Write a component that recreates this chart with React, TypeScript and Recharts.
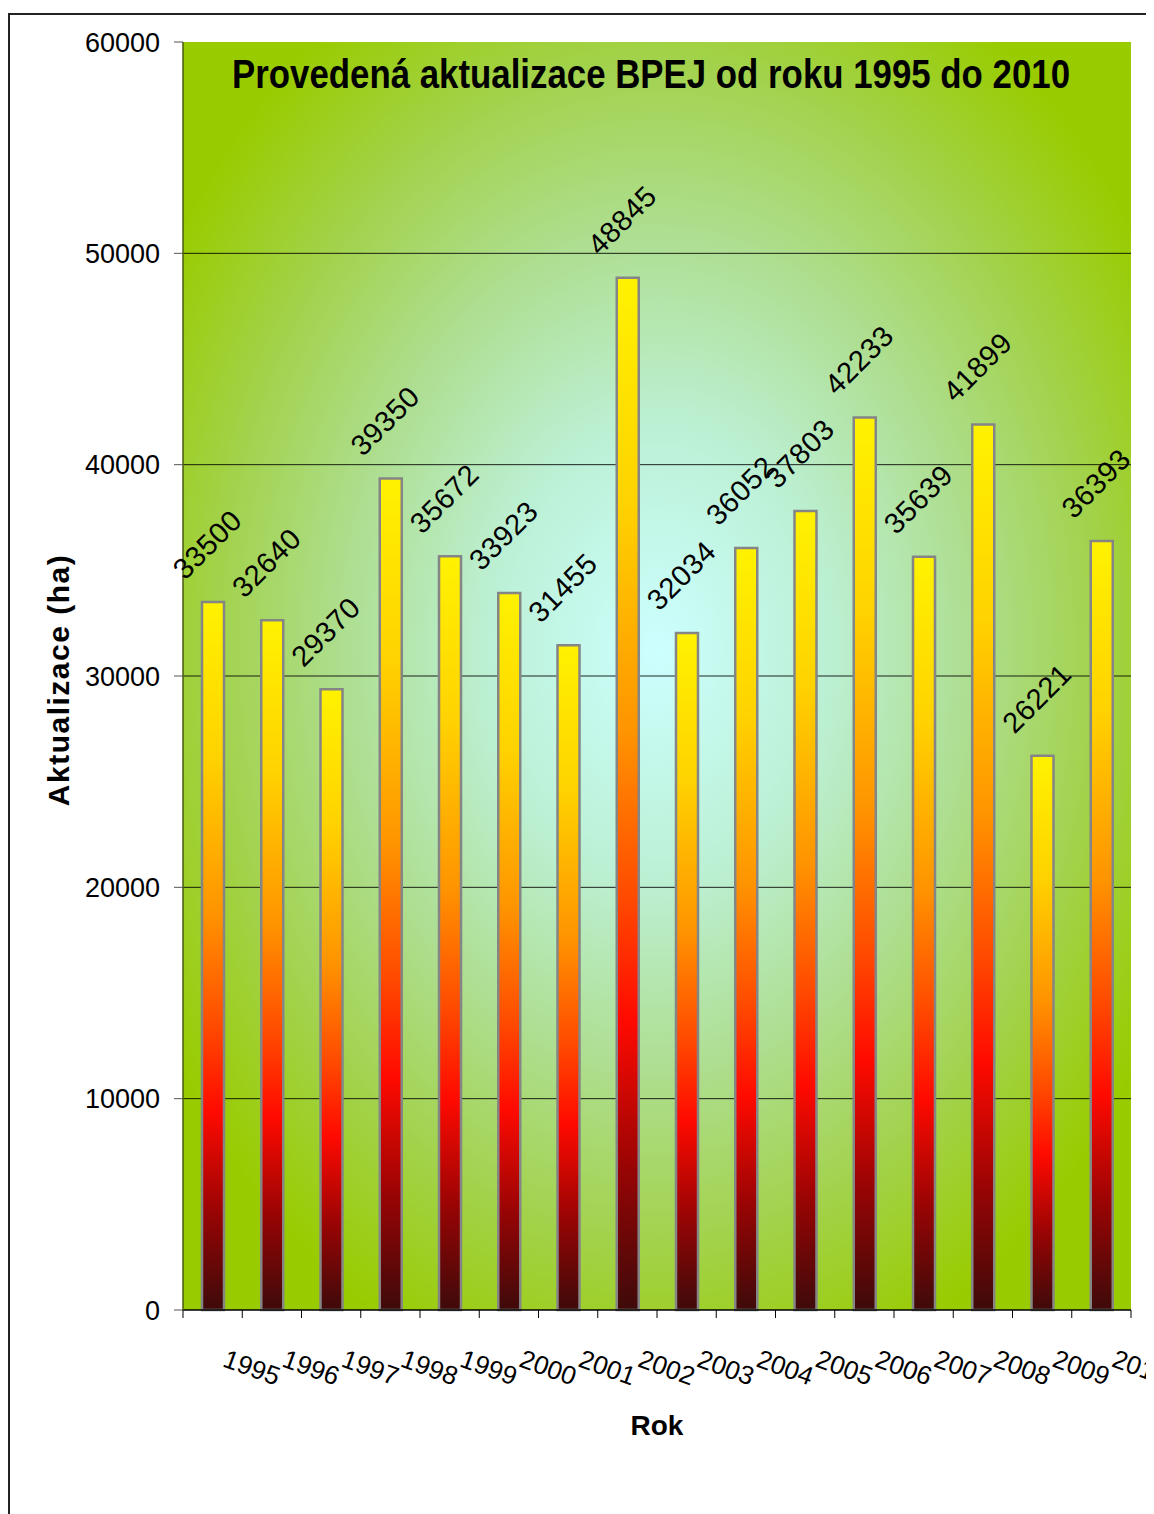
import React from "react";
import {
  BarChart,
  Bar,
  XAxis,
  YAxis,
  CartesianGrid,
  LabelList,
  Customized,
} from "recharts";

const roky = [
  "1995", "1996", "1997", "1998", "1999", "2000", "2001", "2002",
  "2003", "2004", "2005", "2006", "2007", "2008", "2009", "2010",
];

const aktualizace = [
  33500, 32640, 29370, 39350, 35672, 33923, 31455, 48845,
  32034, 36052, 37803, 42233, 35639, 41899, 26221, 36393,
];

const yTicks = [0, 10000, 20000, 30000, 40000, 50000, 60000];
const gridValues = [10000, 20000, 30000, 40000, 50000];

const data = roky.map((rok, i) => ({ rok, ha: aktualizace[i] }));

const W = 1146;
const H = 1506;
const M = { top: 34, right: 23, left: 0, bottom: 0 };
const Y_W = 175;
const X_H = 204;
const BAND = (W - Y_W - M.right) / roky.length;

const XTick = (props: any) => {
  const { x, y, payload, index } = props;
  const half = BAND / 2;
  const tx = x + 9;
  const ty = y + 56;
  return (
    <g>
      {index === 0 && (
        <line x1={x - half} x2={x - half} y1={y} y2={y + 8} stroke="#000" />
      )}
      <line x1={x + half} x2={x + half} y1={y} y2={y + 8} stroke="#000" />
      <text
        x={tx}
        y={ty}
        transform={`rotate(20, ${tx}, ${ty})`}
        textAnchor="start"
        fontSize={26}
        fontFamily="'Liberation Sans Narrow', 'Liberation Sans', Arial, sans-serif"
        fill="#000"
      >
        {payload.value}
      </text>
    </g>
  );
};

const ValueLabel = (props: any) => {
  const { x, y, width, value } = props;
  const lx = x + width / 2 - 28;
  const ly = y - 21;
  return (
    <text
      x={lx}
      y={ly}
      transform={`rotate(-45, ${lx}, ${ly})`}
      textAnchor="start"
      fontSize={29}
      letterSpacing={0.5}
      fontFamily="'Liberation Sans', Arial, sans-serif"
      fill="#000"
    >
      {value}
    </text>
  );
};

const Texts = () => (
  <g fontFamily="'Liberation Sans', Arial, sans-serif" fill="#000">
    <text
      x={224}
      y={80}
      fontSize={40}
      fontWeight="bold"
      textLength={838}
      lengthAdjust="spacingAndGlyphs"
      fontFamily="'Liberation Sans Narrow', 'Liberation Sans', Arial, sans-serif"
    >
      Provedená aktualizace BPEJ od roku 1995 do 2010
    </text>
    <text
      x={50}
      y={672}
      transform="rotate(-90, 50, 672)"
      textAnchor="middle"
      dominantBaseline="central"
      fontSize={30}
      fontWeight="bold"
      letterSpacing={1.5}
    >
      Aktualizace (ha)
    </text>
    <text x={649} y={1427} textAnchor="middle" fontSize={28} fontWeight="bold">
      Rok
    </text>
  </g>
);

export default function App() {
  return (
    <div style={{ position: "relative", width: W, height: H, overflow: "hidden" }}>
      <div
        style={{
          position: "absolute",
          left: 0,
          top: 5,
          width: 3000,
          height: 3000,
          borderLeft: "2px solid #222",
          borderTop: "2px solid #222",
        }}
      />
      <div style={{ position: "absolute", left: 0, top: 0 }}>
        <BarChart width={W} height={H} data={data} margin={M} barSize={22}>
          <defs>
            <radialGradient id="bgGrad" cx="0.5" cy="0.48" r="0.6">
              <stop offset="0" stopColor="#CCFFFF" />
              <stop offset="0.3" stopColor="#BCF0D4" />
              <stop offset="0.55" stopColor="#AEDE90" />
              <stop offset="0.78" stopColor="#A2D24A" />
              <stop offset="1" stopColor="#99CC00" />
            </radialGradient>
            <linearGradient id="barGrad" x1="0" y1="0" x2="0" y2="1">
              <stop offset="0" stopColor="#FFF200" />
              <stop offset="0.22" stopColor="#FFD200" />
              <stop offset="0.44" stopColor="#FF9400" />
              <stop offset="0.6" stopColor="#FF4A00" />
              <stop offset="0.72" stopColor="#FF0A00" />
              <stop offset="0.86" stopColor="#9A0404" />
              <stop offset="1" stopColor="#3E0A0A" />
            </linearGradient>
          </defs>
          <CartesianGrid
            vertical={false}
            horizontalValues={gridValues}
            stroke="#000"
            strokeOpacity={0.85}
            fill="url(#bgGrad)"
            fillOpacity={1}
          />
          <XAxis
            dataKey="rok"
            height={X_H}
            interval={0}
            tickSize={0}
            tickMargin={0}
            axisLine={{ stroke: "#000", strokeWidth: 1.5 }}
            tickLine={false}
            tick={<XTick />}
          />
          <YAxis
            domain={[0, 60000]}
            ticks={yTicks}
            width={Y_W}
            tickSize={9}
            tickMargin={14}
            axisLine={{ stroke: "#4a5a10", strokeWidth: 1.5 }}
            tickLine={{ stroke: "#555" }}
            tick={{
              fontSize: 27,
              fill: "#000",
              fontFamily: "'Liberation Sans', Arial, sans-serif",
            }}
          />
          <Bar
            dataKey="ha"
            fill="url(#barGrad)"
            stroke="#858585"
            strokeWidth={2.5}
            isAnimationActive={false}
          >
            <LabelList dataKey="ha" content={<ValueLabel />} />
          </Bar>
          <Customized component={<Texts />} />
        </BarChart>
      </div>
    </div>
  );
}
